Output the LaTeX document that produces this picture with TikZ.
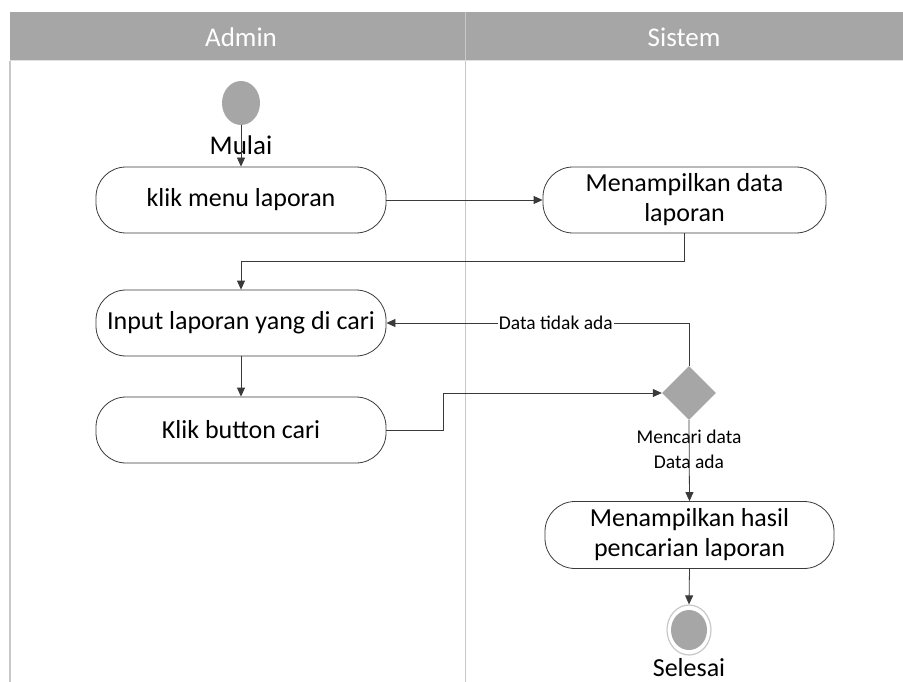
\documentclass[tikz,border=0pt]{standalone}
\usepackage{fontspec}
\setmainfont{Carlito}
\usetikzlibrary{shapes.geometric,arrows.meta}

\definecolor{headgray}{HTML}{A6A6A6}
\definecolor{lanegray}{HTML}{C8C8C8}
\definecolor{linegray}{HTML}{3A3A3A}

\tikzset{
	actbox/.style={draw=linegray, line width=0.8pt, rounded corners=30pt, minimum width=290pt, minimum height=66pt, align=center, inner sep=2pt, font=\fontsize{26}{30}\selectfont},
	startdot/.style={ellipse, fill=headgray, minimum width=38pt, minimum height=44pt, inner sep=0pt},
	decide/.style={diamond, fill=headgray, minimum size=54pt, inner sep=0pt},
	enddot/.style={ellipse, draw=lanegray, line width=1.2pt, fill=white, minimum width=44pt, minimum height=50pt, inner sep=0pt},
	flow/.style={draw=linegray, line width=0.8pt, -{Triangle[length=9pt,width=8pt]}},
	lbl/.style={font=\fontsize{19.5}{22}\selectfont, inner sep=1pt},
}

\begin{document}
\begin{tikzpicture}[x=1pt, y=-1pt]
			\useasboundingbox (0,0) rectangle (903,682);
			% swimlanes
			\fill[headgray] (10,12) rectangle (903,61);
			\draw[lanegray, line width=1.2pt] (10,61) -- (10,682);
			\draw[lanegray, line width=1pt] (465,12) -- (465,682);
			\draw[white!88!black, line width=1pt] (10,61) -- (903,61);
			\node[text=white, font=\fontsize{27}{30}\selectfont] (admin) at (241,37) {Admin};
			\node[text=white, font=\fontsize{27}{30}\selectfont] (sistem) at (684,37) {Sistem};
			% Admin lane
			\node[startdot] (start) at (241,103) {};
			\node[font=\fontsize{27}{30}\selectfont] (mulai) at (241,145) {Mulai};
			\node[actbox] (klik) at (241,200) {klik menu laporan};
			\node[actbox] (input) at (241,323) {Input laporan yang di cari};
			\node[actbox] (cari) at (241,430) {Klik button cari};
			% Sistem lane
			\node[actbox, minimum width=283pt] (tampil) at (684.5,200) {Menampilkan data\\laporan};
			\node[decide] (cabang) at (689,393) {};
			\node[lbl] (mencari) at (689,437) {Mencari data};
			\node[lbl] (ada) at (689,462) {Data ada};
			\node[actbox, minimum width=289pt, minimum height=67pt] (hasil) at (689.5,535) {Menampilkan hasil\\pencarian laporan};
			\node[enddot] (selesai) at (689,630) {};
			\fill[headgray] (selesai.center) ellipse (18pt and 20pt);
			\node[font=\fontsize{26}{30}\selectfont, inner sep=0pt, anchor=base] (selesaitxt) at (689,676) {Selesai};
			% connectors
			\draw[flow] (start.south) -- (klik.north);
			\draw[flow] (klik.east) -- (tampil.west);
			\draw[flow] (tampil.south) -- ++(0,28) -| (input.north);
			\draw[flow] (input.south) -- (cari.north);
			\draw[flow] (cari.east) -- ++(57,0) |- (cabang.west);
			\draw[flow] (cabang.north) |- node[lbl, pos=0.72, fill=white] {Data tidak ada} (input.east);
			\draw[flow] (cabang.south) -- (hasil.north);
			\draw[flow] (hasil.south) -- (selesai.north);
\end{tikzpicture}
\end{document}
